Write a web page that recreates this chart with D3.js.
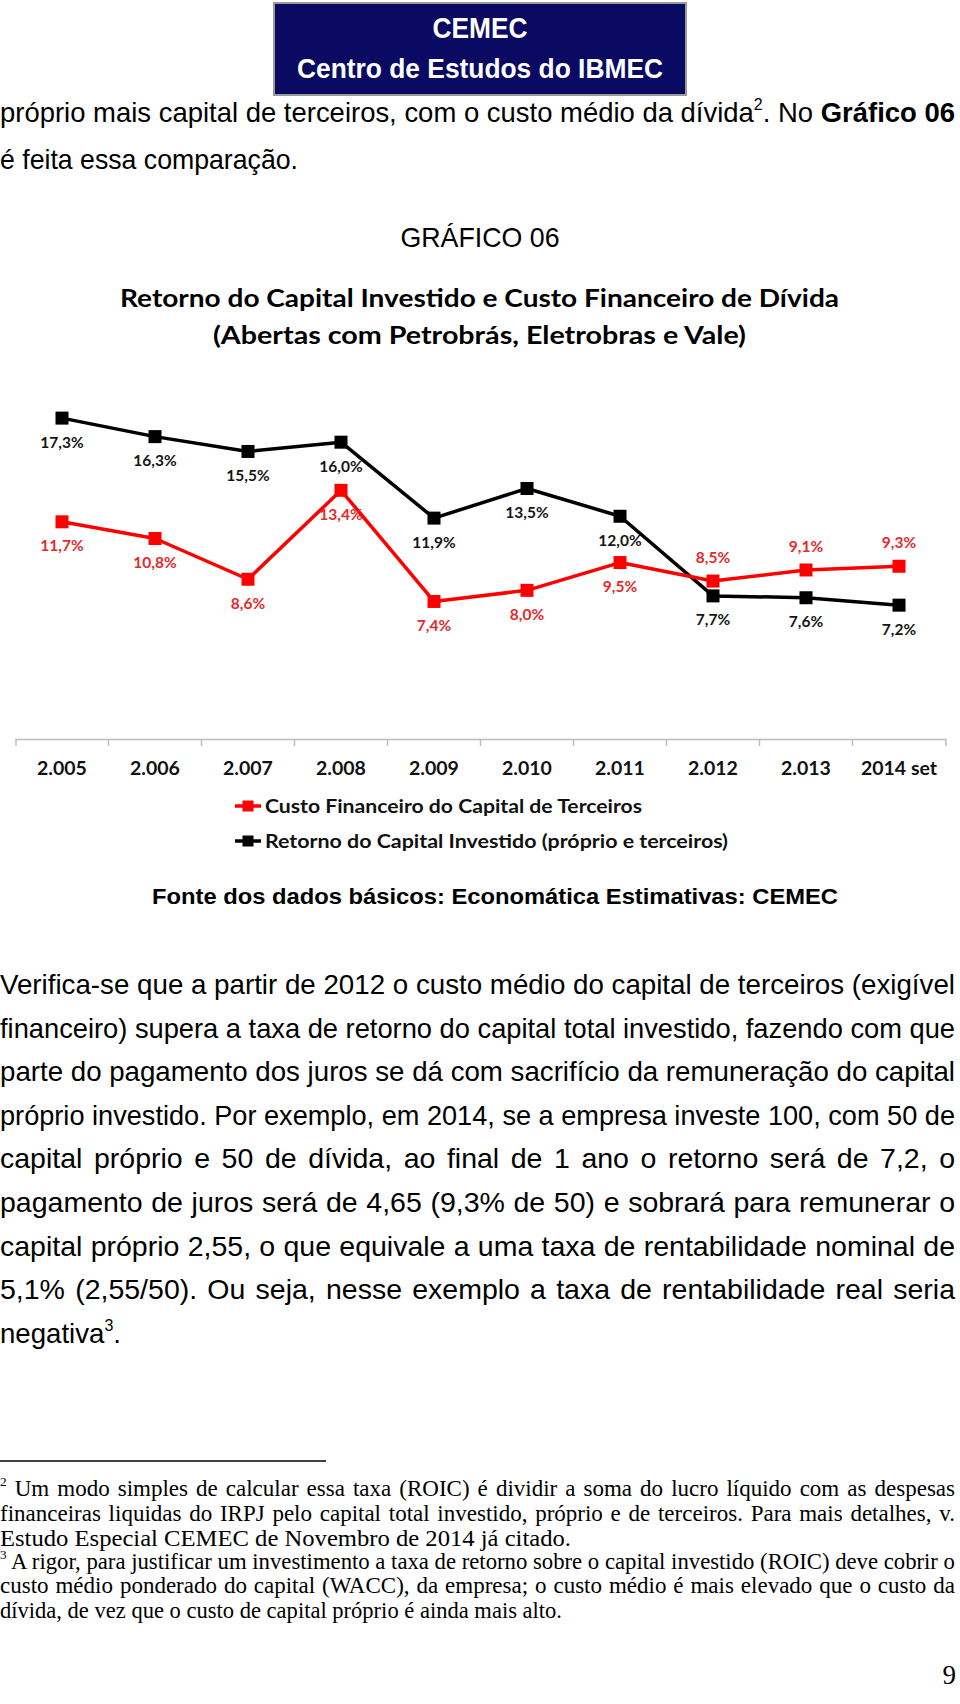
<!DOCTYPE html>
<html>
<head>
<meta charset="utf-8">
<script src="https://cdn.jsdelivr.net/npm/d3@7"></script>
<style>
  html, body { margin: 0; padding: 0; background: #fff; }
  svg { display: block; }
</style>
</head>
<body>
<svg id="page" width="960" height="1704"></svg>
<script>
// ---------------- DATA ----------------
const categories = ["2.005", "2.006", "2.007", "2.008", "2.009", "2.010", "2.011", "2.012", "2.013", "2014 set"];
const custoFinanceiro = [11.7, 10.8, 8.6, 13.4, 7.4, 8.0, 9.5, 8.5, 9.1, 9.3];
const retornoCapital = [17.3, 16.3, 15.5, 16.0, 11.9, 13.5, 12.0, 7.7, 7.6, 7.2];
const seriesNames = ["Custo Financeiro do Capital de Terceiros", "Retorno do Capital Investido (próprio e terceiros)"];
const chartTitle = ["Retorno do Capital Investido e Custo Financeiro de Dívida", "(Abertas com Petrobrás, Eletrobras e Vale)"];

const introLines = [
  [{t: "próprio mais capital de terceiros, com o custo médio da dívida"}, {t: "2", sup: true}, {t: ". No "}, {t: "Gráfico 06", b: true}],
  [{t: "é feita essa comparação."}]
];
const paragraphLines = [
  "Verifica-se que a partir de 2012 o custo médio do capital de terceiros (exigível",
  "financeiro) supera a taxa de retorno do capital total investido, fazendo com que",
  "parte do pagamento dos juros se dá com sacrifício da remuneração do capital",
  "próprio investido. Por exemplo, em 2014, se a empresa investe 100, com 50 de",
  "capital próprio e 50 de dívida, ao final de 1 ano o retorno será de 7,2, o",
  "pagamento de juros será de 4,65 (9,3% de 50) e sobrará para remunerar o",
  "capital próprio 2,55, o que equivale a uma taxa de rentabilidade nominal de",
  "5,1% (2,55/50). Ou seja, nesse exemplo a taxa de rentabilidade real seria"
];
const footLines = [
  [{t: "2", sup: true}, {t: " Um modo simples de calcular essa taxa (ROIC) é dividir a soma do lucro líquido com as despesas"}],
  [{t: "financeiras liquidas do IRPJ pelo capital total investido, próprio e de terceiros. Para mais detalhes, v."}],
  [{t: "Estudo Especial CEMEC de Novembro de 2014 já citado."}],
  [{t: "3", sup: true}, {t: " A rigor, para justificar um investimento a taxa de retorno sobre o capital investido (ROIC) deve cobrir o"}],
  [{t: "custo médio ponderado do capital (WACC), da empresa; o custo médio é mais elevado que o custo da"}],
  [{t: "dívida, de vez que o custo de capital próprio é ainda mais alto."}]
];

// ---------------- HELPERS ----------------
const svg = d3.select("#page");
svg.append("rect").attr("width", 960).attr("height", 1704).attr("fill", "#fff");

function addLine(parts, o) {
  const t = svg.append("text")
    .attr("x", o.x).attr("y", o.y)
    .attr("text-anchor", o.anchor || "start")
    .style("font-family", o.family)
    .style("font-size", o.size + "px")
    .style("font-weight", o.weight || "normal")
    .attr("fill", o.fill || "#000");
  let shifted = false;
  parts.forEach(p => {
    const ts = t.append("tspan").text(p.t);
    if (p.b) ts.style("font-weight", "bold");
    if (p.sup) {
      ts.style("font-size", (o.size * 0.58) + "px").attr("dy", -o.size * 0.42);
      shifted = true;
    } else if (shifted) {
      ts.attr("dy", o.size * 0.42);
      shifted = false;
    }
  });
  if (o.width) {
    const natural = t.node().getComputedTextLength();
    const full = parts.map(p => p.t).join("");
    const nSpaces = (full.match(/ /g) || []).length;
    if (o.justify && natural < o.width && nSpaces > 0) {
      t.style("word-spacing", ((o.width - natural) / nSpaces) + "px");
    } else if (natural > o.width || o.fit) {
      t.attr("textLength", o.width).attr("lengthAdjust", "spacingAndGlyphs");
    }
  }
  return t;
}

// ---------------- LOGO ----------------
svg.append("rect").attr("x", 274).attr("y", 3).attr("width", 412).attr("height", 92)
  .attr("fill", "#0a0a62").attr("stroke", "#9a9a9a").attr("stroke-width", 2);
addLine([{t: "CEMEC"}], {x: 480, y: 38, size: 29, family: "Liberation Sans", weight: "bold", anchor: "middle", fill: "#fff", width: 95, fit: true});
addLine([{t: "Centro de Estudos do IBMEC"}], {x: 480, y: 78, size: 28, family: "Liberation Sans", weight: "bold", anchor: "middle", fill: "#fff", width: 366, fit: true});

// ---------------- INTRO TEXT ----------------
addLine(introLines[0], {x: 0, y: 122, size: 28.5, family: "Liberation Sans", width: 955, justify: true});
addLine(introLines[1], {x: 0, y: 169, size: 28.5, family: "Liberation Sans", width: 298, fit: true});
addLine([{t: "GRÁFICO 06"}], {x: 480, y: 247, size: 28, family: "Liberation Sans", anchor: "middle", width: 159, fit: true});

// ---------------- CHART ----------------
addLine([{t: chartTitle[0]}], {x: 479.5, y: 307, size: 25, family: "Lato", weight: "bold", anchor: "middle", width: 719, fit: true});
addLine([{t: chartTitle[1]}], {x: 479.5, y: 344, size: 25, family: "Lato", weight: "bold", anchor: "middle", width: 533, fit: true});

const x = d3.scaleBand().domain(categories).range([15.5, 945.5]).padding(0);
const y = d3.scaleLinear().domain([0, 20]).range([738.5, 368.1]);
const cx = c => x(c) + x.bandwidth() / 2;

const chart = svg.append("g");

// axis
const axis = d3.axisBottom(x).tickSize(0).tickSizeOuter(7).tickPadding(0);
const axG = chart.append("g").attr("transform", "translate(0,739)").call(axis);
axG.select(".domain").attr("stroke", "#bdbdbd").attr("stroke-width", 1.5);
axG.selectAll(".tick text")
  .attr("y", 29).attr("dy", "0.36em")
  .style("font-family", "Lato").style("font-weight", "bold").style("font-size", "19.5px")
  .attr("fill", "#111");
axG.selectAll(".bound").data(categories.slice(1)).enter().append("line")
  .attr("class", "bound")
  .attr("x1", d => x(d)).attr("x2", d => x(d))
  .attr("y1", 0).attr("y2", 7)
  .attr("stroke", "#bdbdbd").attr("stroke-width", 1.5);

const redSeries = {name: seriesNames[0], values: custoFinanceiro, color: "#ff0000", labelColor: "#e42a2a"};
const blackSeries = {name: seriesNames[1], values: retornoCapital, color: "#000000", labelColor: "#151515"};
const series = [blackSeries, redSeries];
const fmt = v => d3.format(".1f")(v).replace(".", ",") + "%";
const line = d3.line().x((d, i) => cx(categories[i])).y(d => y(d));

series.forEach(s => {
  chart.append("path").datum(s.values)
    .attr("d", line).attr("fill", "none")
    .attr("stroke", s.color).attr("stroke-width", 3.5).attr("stroke-linejoin", "round");
  chart.selectAll(null).data(s.values).enter().append("rect")
    .attr("x", (d, i) => cx(categories[i]) - 6.5)
    .attr("y", d => y(d) - 6.5)
    .attr("width", 13).attr("height", 13)
    .attr("fill", s.color);
});

// labels
series.forEach(s => {
  chart.selectAll(null).data(s.values).enter().append("text")
    .attr("x", (d, i) => cx(categories[i]))
    .attr("y", (d, i) => {
      const above = s === redSeries && custoFinanceiro[i] > retornoCapital[i];
      return y(d) + (above ? -24 : 24);
    })
    .attr("dy", "0.36em")
    .attr("text-anchor", "middle")
    .style("font-family", "Lato").style("font-weight", "bold").style("font-size", "15.5px")
    .attr("fill", s.labelColor)
    .text(d => fmt(d));
});

// legend
const legend = chart.append("g");
[{s: redSeries, yy: 806}, {s: blackSeries, yy: 841}].forEach(({s, yy}) => {
  legend.append("line").attr("x1", 235).attr("x2", 261).attr("y1", yy).attr("y2", yy)
    .attr("stroke", s.color).attr("stroke-width", 3.5);
  legend.append("rect").attr("x", 242.5).attr("y", yy - 5.5).attr("width", 11).attr("height", 11).attr("fill", s.color);
});
addLine([{t: redSeries.name}], {x: 265, y: 813, size: 19, family: "Lato", weight: "bold", width: 377, fit: true, fill: "#111"});
addLine([{t: blackSeries.name}], {x: 265, y: 848, size: 19, family: "Lato", weight: "bold", width: 463, fit: true, fill: "#111"});

// source
addLine([{t: "Fonte dos dados básicos:  Economática Estimativas: CEMEC"}], {x: 152, y: 904, size: 22, family: "Liberation Sans", weight: "bold", width: 686, fit: true});

// ---------------- PARAGRAPH ----------------
paragraphLines.forEach((str, i) => {
  addLine([{t: str}], {x: 0, y: 994 + i * 43.6, size: 28.5, family: "Liberation Sans", width: 955, justify: true});
});
addLine([{t: "negativa"}, {t: "3", sup: true}, {t: "."}], {x: 0, y: 994 + 8 * 43.6, size: 28.5, family: "Liberation Sans", width: 121, fit: true});

// ---------------- FOOTNOTES ----------------
svg.append("line").attr("x1", 0).attr("x2", 326).attr("y1", 1461).attr("y2", 1461).attr("stroke", "#000").attr("stroke-width", 1.5);
const footY = [1496, 1521, 1546, 1569, 1593, 1618];
const footW = [955, 955, 571, 955, 955, 562];
const footJ = [true, true, false, true, true, false];
footLines.forEach((parts, i) => {
  addLine(parts, {x: 0, y: footY[i], size: 23, family: "Liberation Serif", width: footW[i], justify: footJ[i], fit: !footJ[i]});
});
addLine([{t: "9"}], {x: 956, y: 1684, size: 27, family: "Liberation Serif", anchor: "end"});
</script>
</body>
</html>
